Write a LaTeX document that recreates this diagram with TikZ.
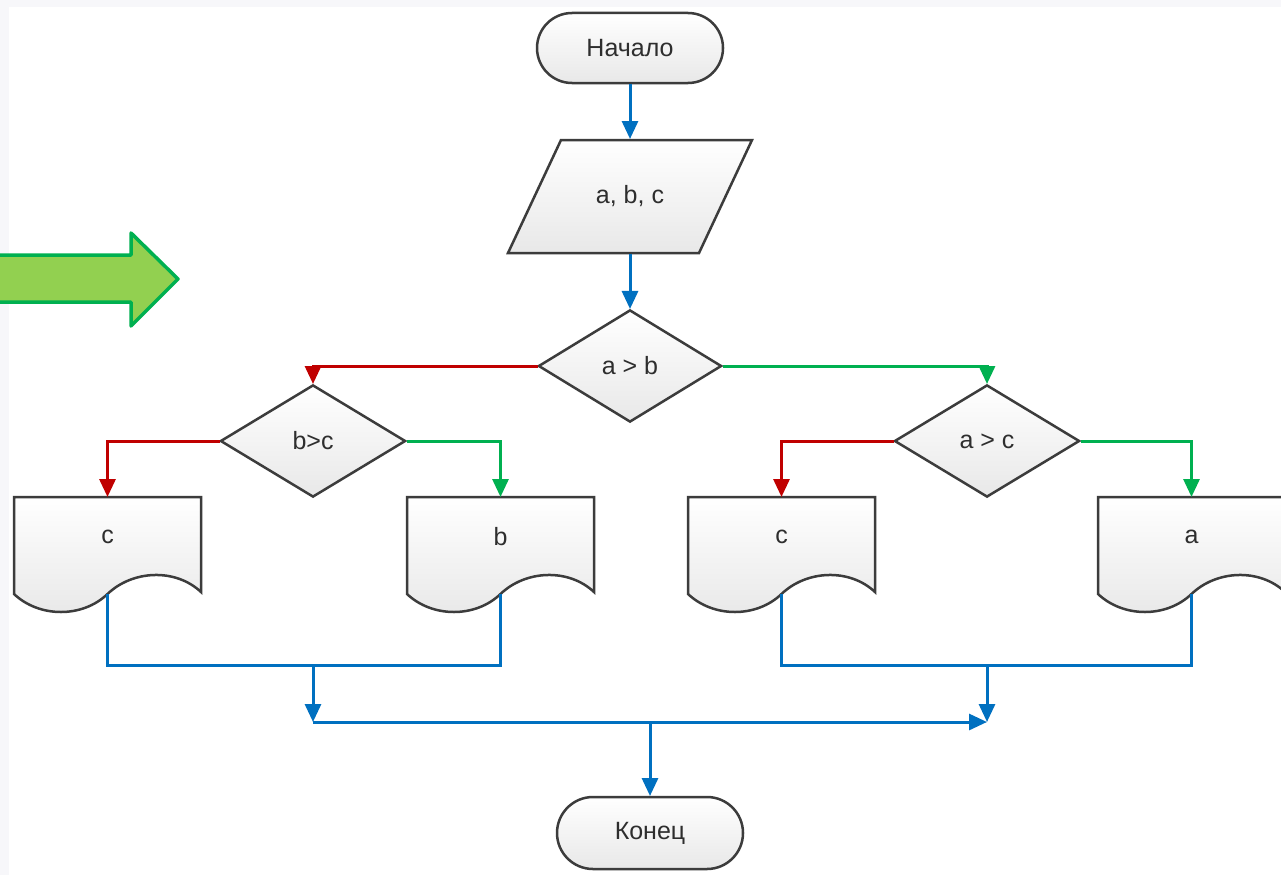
\documentclass[tikz,border=0pt]{standalone}
\usepackage{fontspec}
\setmainfont{Liberation Sans}
\usetikzlibrary{shapes.geometric,arrows.meta}
\definecolor{cblue}{HTML}{0070C0}
\definecolor{cred}{HTML}{C00000}
\definecolor{cgreen}{HTML}{00B050}
\definecolor{lgreen}{HTML}{92D050}
\definecolor{outl}{HTML}{3C3C3C}
\definecolor{shadebot}{HTML}{E8E8E8}
\definecolor{bgstrip}{HTML}{F7F7FA}
\definecolor{txt}{HTML}{2E2E2E}
\newcommand\lblfont{\fontsize{25}{29}\selectfont}
\tikzset{
  shapefill/.style={draw=outl, line width=2.5pt, top color=white, bottom color=shadebot},
  term/.style={shapefill, rectangle, rounded corners=35pt, minimum width=186pt, minimum height=70pt, inner sep=0pt, outer sep=1pt, font=\lblfont, text=txt},
  dia/.style={shapefill, diamond, minimum width=183pt, minimum height=112pt, inner sep=0pt, outer sep=1pt, font=\lblfont, text=txt},
  plaintext/.style={font=\lblfont, text=txt, inner sep=0pt, outer sep=1pt},
  bline/.style={line width=3pt, draw=cblue},
  conn/.style={line width=3pt, -{Triangle[length=18pt,width=16pt]}},
  bluel/.style={conn, draw=cblue},
  redl/.style={conn, draw=cred},
  greenl/.style={conn, draw=cgreen},
}
\newcommand\docshape[3]{%
  \path[shapefill] (#2-93.5,497) -- (#2+93.5,497) -- (#2+93.5,592)
     .. controls (#2+68,568) and (#2+25,570) .. (#2,594)
     .. controls (#2-25,618) and (#2-68,618) .. (#2-93.5,594) -- cycle;
  \node[plaintext] (#1) at (#2,537) {#3};
  \coordinate (#1top) at (#2,497);
  \coordinate (#1bot) at (#2,594);
}
\begin{document}
\begin{tikzpicture}[x=1pt,y=-1pt]
\useasboundingbox (0,0) rectangle (1281,875);
\fill[bgstrip] (0,0) rectangle (1281,875);
\fill[white] (9,7) rectangle (1281,875);
% big green arrow
\draw[fill=lgreen, draw=cgreen, line width=3.5pt, line join=round]
  (-5,255) -- (131,255) -- (131,233) -- (178,279) -- (131,326) -- (131,302) -- (-5,302) -- cycle;

\node[term] (start) at (630,48) {Начало};
\path[shapefill] (561,140) -- (752,140) -- (699,253) -- (508,253) -- cycle;
\node[plaintext, minimum width=191pt, minimum height=113pt] (io) at (630,196.5) {a, b, c};

\node[dia] (d1) at (630,366) {a > b};
\node[dia, minimum width=185pt] (d2) at (313,441) {b>c};
\node[dia, minimum width=185pt] (d3) at (987,441) {a > c};

\docshape{c1}{107.5}{c}
\docshape{b1}{500.5}{b}
\docshape{c2}{781.5}{c}
\docshape{a1}{1191.5}{a}

\node[term, minimum height=72pt, rounded corners=36pt] (end) at (650,833) {Конец};

\draw[bluel] (start) -- (io);
\draw[bluel] (io) -- (d1);
\draw[redl] (d1.west) -| (d2.north);
\draw[greenl] (d1.east) -| (d3.north);
\draw[redl] (d2.west) -| (c1top);
\draw[greenl] (d2.east) -| (b1top);
\draw[redl] (d3.west) -| (c2top);
\draw[greenl] (d3.east) -| (a1top);

\coordinate (j1) at (313,665);
\coordinate (k1) at (313,722);
\coordinate (j2) at (987,665);
\coordinate (k2) at (987,722);
\coordinate (k3) at (650,722);
\draw[bline] (c1bot) |- (j1) -| (b1bot);
\draw[bline] (c2bot) |- (j2) -| (a1bot);
\draw[bluel] (j1) -- (k1);
\draw[bluel] (j2) -- (k2);
\draw[bluel] (k1) -- (k2);
\draw[bluel] (k3) -- (end);
\end{tikzpicture}
\end{document}
